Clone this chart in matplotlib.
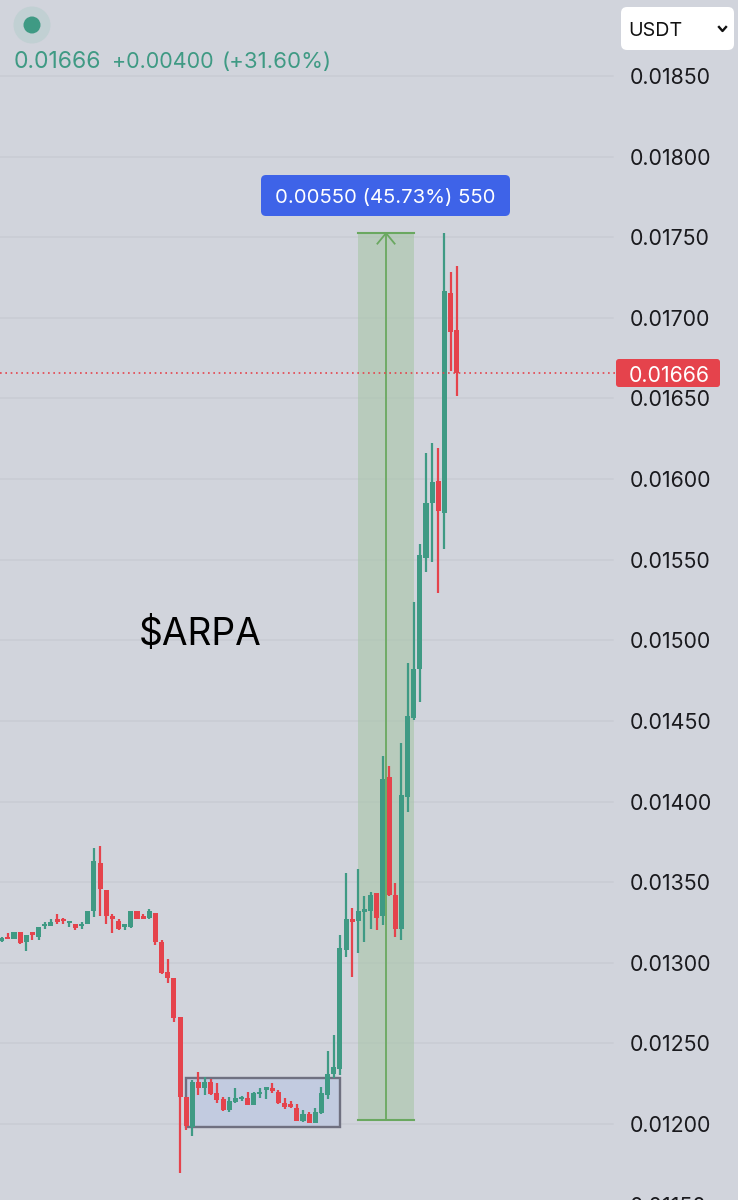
import matplotlib
matplotlib.use("Agg")
import matplotlib.pyplot as plt
import numpy as np
from matplotlib.patches import FancyBboxPatch, Rectangle, Circle
from matplotlib.transforms import Affine2D, blended_transform_factory

plt.rcParams['font.family'] = ['Inter', 'DejaVu Sans']

# prices in units of 0.00001 USDT, one row per candle
opens = [1313.7,1315.5,1314.9,1319.0,1312.8,1318.4,1315.9,1322.6,1323.0,1327.3,1326.3,1324.4,1324.0,1322.6,1324.0,
         1332.1,1361.8,1344.9,1328.8,1326.1,1322.4,1321.9,1332.1,1327.9,1327.5,1331.0,1312.8,1294.0,1290.7,1266.1,
         1216.9,1198.3,1226.2,1222.1,1226.0,1219.2,1215.3,1208.7,1213.8,1215.5,1215.9,1212.0,1218.6,1221.3,1221.5,
         1220.0,1213.0,1211.6,1210.1,1201.8,1206.2,1200.8,1206.8,1218.0,1231.0,1234.1,1307.9,1327.1,1326.1,1331.7,
         1332.1,1343.1,1329.0,1415.2,1342.3,1321.0,1403.0,1451.6,1482.2,1551.3,1585.0,1599.1,1579.2,1715.4,1692.3]
highs = [1316.2,1318.2,1319.0,1319.0,1317.0,1318.4,1321.9,1325.0,1327.3,1330.0,1327.5,1325.3,1324.0,1325.0,1332.1,
         1371.1,1372.4,1344.9,1330.2,1327.1,1324.2,1332.1,1332.1,1330.0,1333.3,1331.0,1313.9,1302.1,1290.7,1266.1,
         1216.9,1227.3,1232.0,1228.9,1227.9,1225.2,1217.0,1217.0,1222.3,1217.4,1220.0,1220.0,1222.1,1222.3,1225.2,
         1221.1,1215.9,1214.5,1212.2,1208.7,1207.6,1210.1,1222.9,1245.5,1255.0,1317.2,1356.0,1334.1,1357.9,1341.4,
         1343.9,1343.1,1428.3,1422.3,1349.3,1436.1,1486.1,1524.0,1559.6,1616.4,1622.2,1619.3,1752.4,1728.5,1732.2]
lows = [1312.8,1314.5,1314.9,1311.4,1307.1,1314.1,1314.1,1320.9,1322.8,1324.0,1324.2,1322.2,1320.3,1320.9,1323.8,
        1328.1,1329.0,1324.2,1318.4,1320.5,1320.5,1321.7,1326.9,1327.3,1327.3,1311.2,1293.2,1287.2,1263.2,1169.4,
        1196.3,1192.6,1218.0,1218.2,1218.0,1213.2,1208.0,1207.4,1213.2,1214.0,1211.8,1211.8,1216.1,1215.5,1219.0,
        1212.4,1209.1,1210.1,1201.6,1201.0,1200.6,1200.6,1206.4,1215.5,1228.7,1230.4,1303.3,1291.1,1306.0,1313.1,
        1321.2,1320.4,1323.3,1341.5,1316.2,1314.2,1393.5,1450.6,1461.5,1542.6,1548.4,1529.6,1556.5,1667.3,1651.6]
closes = [1314.7,1314.5,1319.0,1312.2,1317.0,1317.4,1321.9,1323.4,1325.3,1325.0,1325.7,1325.3,1321.7,1323.2,1332.1,
          1363.3,1345.7,1329.0,1326.9,1320.9,1323.0,1332.1,1327.3,1327.3,1332.1,1312.8,1293.8,1290.7,1265.9,1216.9,
          1198.7,1226.2,1222.1,1226.0,1218.6,1214.9,1208.7,1214.3,1215.9,1216.3,1212.0,1219.0,1219.6,1221.9,1220.7,
          1212.8,1210.7,1210.7,1201.8,1206.0,1200.8,1207.2,1219.0,1230.8,1235.1,1309.1,1327.1,1325.0,1332.1,1332.6,
          1342.3,1328.0,1414.2,1341.9,1321.0,1404.1,1453.3,1482.2,1553.0,1585.2,1598.0,1580.2,1716.4,1691.0,1666.0]

axis_ticks = [1150,1200,1250,1300,1350,1400,1450,1500,1550,1600,1650,1700,1750,1800,1850]
tick_labels = ["0.01150","0.01200","0.01250","0.01300","0.01350","0.01400","0.01450","0.01500",
               "0.01550","0.01600","0.01650","0.01700","0.01750","0.01800","0.01850"]
last_price = 1666
measure_low, measure_high = 1202.5, 1752.5
measure_start, measure_end = 58, 67
box_low, box_high = 1198.1, 1228.5
box_start, box_end = 30, 55

BG = '#d1d4dc'; GREEN = '#3f9a84'; RED = '#e5434c'; MEAS = '#6aa860'

fig = plt.figure(figsize=(7.38, 12), dpi=100, facecolor=BG)
ax = fig.add_axes([0, 0, 1, 1], facecolor=BG)
ax.set_xlim(-0.276, 119.74)
ax.set_ylim(1152.9, 1897.1)
ax.axis('off')

px = Affine2D().scale(1/738, -1/1200).translate(0, 1) + fig.transFigure
xpx_y = blended_transform_factory(px, ax.transData)

# grid
ax.plot([[0]*len(axis_ticks), [613]*len(axis_ticks)], [axis_ticks, axis_ticks],
        color='#c9ccd4', lw=1.1, transform=xpx_y, zorder=1)

# measure zone
ax.add_patch(Rectangle((measure_start, measure_low), measure_end-measure_start, measure_high-measure_low,
                       fc='#a8c6a8', alpha=0.6, ec='none', zorder=2))
ax.plot([measure_start, measure_end], [measure_low]*2, color=MEAS, lw=1.5, zorder=3)
ax.plot([measure_start, measure_end], [measure_high]*2, color=MEAS, lw=1.5, zorder=3)
mid = (measure_start+measure_end)/2
ax.plot([mid, mid], [measure_low, measure_high], color=MEAS, lw=1.3, zorder=3)
ax.plot([mid-1.4, mid, mid+1.4], [measure_high-6.5, measure_high, measure_high-6.5], color=MEAS, lw=1.3, zorder=3)

# range box
ax.add_patch(Rectangle((box_start, box_low), box_end-box_start, box_high-box_low,
                       fc='#c2cbe0', ec='#6f7080', lw=1.7, zorder=2))

# candles
idx = np.arange(len(opens))
o, h, l, c = map(np.array, (opens, highs, lows, closes))
cols = [GREEN if b >= a else RED for a, b in zip(o, c)]
ax.vlines(idx, l, h, colors=cols, lw=1.6, zorder=4)
ax.bar(idx, np.maximum(np.abs(c-o), 1.5), bottom=np.minimum(o, c), width=0.82, color=cols, lw=0, zorder=4)

# last price line
ax.plot([0, 616], [last_price]*2, color=RED, lw=1.2, ls=(0, (1, 2.2)), transform=xpx_y, zorder=5)

# axis labels
for t, s in zip(axis_ticks, tick_labels):
    ax.text(630, t, s, transform=xpx_y, fontsize=15.4, color='#1a1a1e', va='center_baseline', ha='left', zorder=6, clip_on=False)

# last price tag
ax.add_patch(FancyBboxPatch((616, 359), 104, 28, boxstyle='round,pad=0,rounding_size=3', fc=RED, ec='none', transform=px, zorder=7))
ax.text(669, 373.5, '0.01666', transform=px, color='white', fontsize=15.4, ha='center', va='center_baseline', zorder=8)

# measure label
ax.add_patch(FancyBboxPatch((261, 175), 249, 41, boxstyle='round,pad=0,rounding_size=5', fc='#3e63e8', ec='none', transform=px, zorder=7))
ax.text(385.5, 196.5, '0.00550 (45.73%) 550', transform=px, color='white', fontsize=14.6, ha='center', va='center_baseline', zorder=8)

# note
ax.text(139, 631, '$ARPA', transform=px, color='black', fontsize=26.8, ha='left', va='center_baseline', zorder=8)

# legend
ax.add_patch(Circle((32, 25), 18.5, fc='#c1d0d3', ec='none', transform=px, zorder=7))
ax.add_patch(Circle((32, 25), 8.5, fc=GREEN, ec='none', transform=px, zorder=8))
ax.text(14, 60, '0.01666', transform=px, color=GREEN, fontsize=16.5, ha='left', va='center_baseline', zorder=8)
ax.text(112, 60, '+0.00400', transform=px, color=GREEN, fontsize=15.5, ha='left', va='center_baseline', zorder=8)
ax.text(222, 60, '(+31.60%)', transform=px, color=GREEN, fontsize=16, ha='left', va='center_baseline', zorder=8)

# currency selector
ax.add_patch(FancyBboxPatch((621, 7), 113, 43, boxstyle='round,pad=0,rounding_size=6', fc='white', ec='none', transform=px, zorder=7))
ax.text(628, 29, 'USDT', transform=px, color='#111111', fontsize=14.2, ha='left', va='center_baseline', zorder=8)
ax.plot([719, 722.5, 726], [27, 31, 27], color='#111111', lw=1.7, transform=px, zorder=8)

fig.savefig('out.png', dpi=100, facecolor=BG)
